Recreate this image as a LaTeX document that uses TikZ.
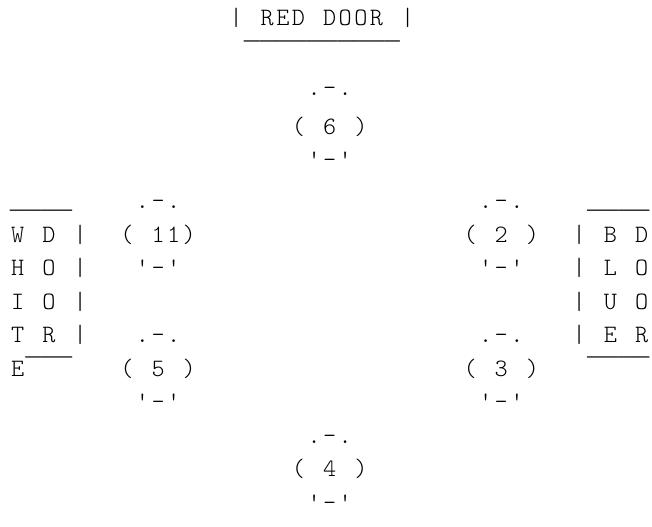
\documentclass[tikz,border=0pt]{standalone}
\usepackage{fontspec}
\setmonofont{lmmonolt10-regular.otf}
\newfontfamily\linefont{Liberation Mono}
\usetikzlibrary{positioning}

% one monospace cell and the left margin, in px
\def\cw{15.6}
\def\mx{9.7}
% line glyphs that join from cell to cell
\newcommand\ovl{{\linefont\fontsize{26bp}{30bp}\selectfont ‾}}
\newcommand\unl{{\linefont\fontsize{26bp}{30bp}\selectfont \_}}
% set a row, one character per cell (~ is an empty cell)
\newcommand\monorow[1]{\monostep#1\relax}
\def\monostep#1{\ifx#1\relax\else\makebox[\cw bp][c]{#1}\expandafter\monostep\fi}

\begin{document}
\begin{tikzpicture}[x=1bp,y=-1bp,
  ascii/.style={font=\ttfamily\fontsize{25bp}{30bp}\selectfont,
                inner sep=0pt,anchor=base west}]
  \useasboundingbox (0,0) rectangle (652,527);
  % red door at the top
  \node[ascii] (door)     at ({\mx+\cw*14},25.4) {\monorow{|~RED~DOOR~|}};
  \node[ascii] (doorline) at ({\mx+\cw*15},61)
    {\monorow{\ovl\ovl\ovl\ovl\ovl\ovl\ovl\ovl\ovl\ovl}};
  % circle 6
  \node[ascii] (c6top) at ({\mx+\cw*19},96)    {\monorow{.-.}};
  \node[ascii] (c6)    at ({\mx+\cw*18},134.4) {\monorow{(~6~)}};
  \node[ascii] (c6bot) at ({\mx+\cw*19},168)   {\monorow{'-'}};
  % wood door and blue door
  \node[ascii] (woodtop) at ({\mx},208.6)        {\monorow{\unl\unl\unl\unl}};
  \node[ascii] (bluetop) at ({\mx+\cw*37},208.6) {\monorow{\unl\unl\unl\unl}};
  \foreach \a/\b/\c/\d [count=\i from 0] in {W/D/B/D,H/O/L/O,I/O/U/O,T/R/E/R}{
    \node[ascii] (wood\i) at ({\mx},{242.4+33.5*\i})        {\monorow{\a~\b~|}};
    \node[ascii] (blue\i) at ({\mx+\cw*36},{242.4+33.5*\i}) {\monorow{|~\c~\d}};
  }
  \node[ascii] (woodbot) at ({\mx},376.4)        {\monorow{E\ovl\ovl\ovl}};
  \node[ascii] (bluebot) at ({\mx+\cw*37},376.4) {\monorow{\ovl\ovl\ovl\ovl}};
  % circles 11 and 2
  \node[ascii] (c11top) at ({\mx+\cw*8},208.6)  {\monorow{.-.}};
  \node[ascii] (c11)    at ({\mx+\cw*7},242.4)  {\monorow{(~11)}};
  \node[ascii] (c11bot) at ({\mx+\cw*8},275.9)  {\monorow{'-'}};
  \node[ascii] (c2top)  at ({\mx+\cw*30},208.6) {\monorow{.-.}};
  \node[ascii] (c2)     at ({\mx+\cw*29},242.4) {\monorow{(~2~)}};
  \node[ascii] (c2bot)  at ({\mx+\cw*30},275.9) {\monorow{'-'}};
  % circles 5 and 3
  \node[ascii] (c5top) at ({\mx+\cw*8},342.9)  {\monorow{.-.}};
  \node[ascii] (c5)    at ({\mx+\cw*7},376.4)  {\monorow{(~5~)}};
  \node[ascii] (c5bot) at ({\mx+\cw*8},409.9)  {\monorow{'-'}};
  \node[ascii] (c3top) at ({\mx+\cw*30},342.9) {\monorow{.-.}};
  \node[ascii] (c3)    at ({\mx+\cw*29},376.4) {\monorow{(~3~)}};
  \node[ascii] (c3bot) at ({\mx+\cw*30},409.9) {\monorow{'-'}};
  % circle 4
  \node[ascii] (c4top) at ({\mx+\cw*19},443.4) {\monorow{.-.}};
  \node[ascii] (c4)    at ({\mx+\cw*18},476.9) {\monorow{(~4~)}};
  \node[ascii] (c4bot) at ({\mx+\cw*19},510.4) {\monorow{'-'}};
\end{tikzpicture}
\end{document}
